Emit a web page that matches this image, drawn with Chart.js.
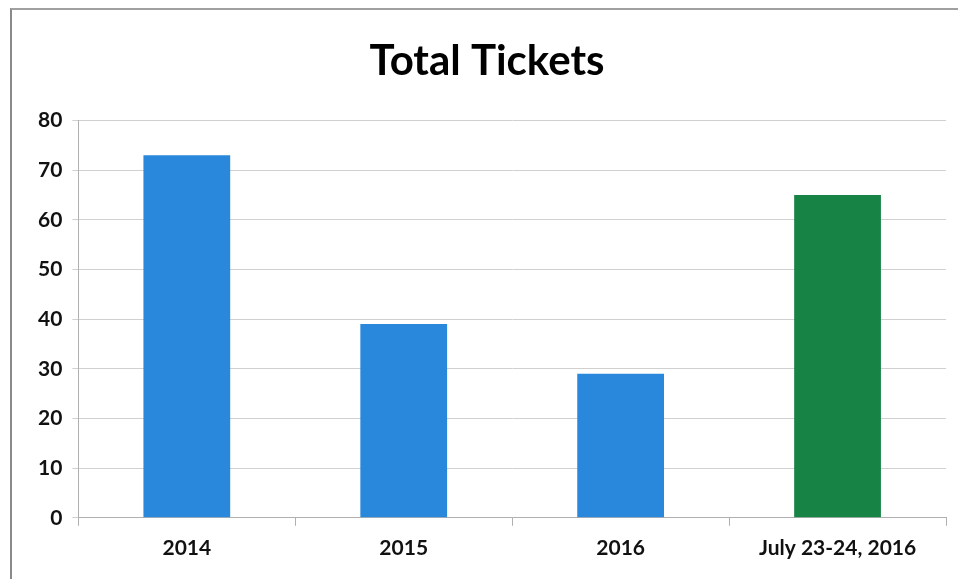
<!DOCTYPE html>
<html lang="en">
<head>
    <meta charset="UTF-8">
    <title>Total Tickets</title>
    <script src="https://cdn.jsdelivr.net/npm/chart.js@4.4.0/dist/chart.umd.min.js"></script>
    <style>
        html, body { margin: 0; padding: 0; background: #fff; }
        #wrap { position: relative; width: 958px; height: 579px; }
        #frame { position: absolute; left: 10px; top: 8px; right: 0; bottom: 0;
                 border-left: 2px solid #8a8a8a; border-top: 2px solid #a0a0a0; }
        canvas { position: absolute; left: 0; top: 0; }
    </style>
</head>
<body>
<div id="wrap">
    <div id="frame"></div>
    <canvas id="tickets-chart" width="958" height="579"></canvas>
</div>

<script>
    const categories = ['2014', '2015', '2016', 'July 23-24, 2016'];
    const tickets = [73, 39, 29, 65];
    const barColors = ['#2a88dc', '#2a88dc', '#2a88dc', '#178345'];

    const font = 'Lato, "Open Sans", sans-serif';

    new Chart('tickets-chart', {
        type: 'bar',
        data: {
            labels: categories,
            datasets: [{
                data: tickets,
                backgroundColor: barColors,
                categoryPercentage: 1,
                barPercentage: 0.4
            }]
        },
        options: {
            responsive: false,
            animation: false,
            layout: { padding: { left: 28, right: 12, top: 8, bottom: 8 } },
            plugins: {
                legend: { display: false },
                tooltip: { enabled: false },
                title: {
                    display: true,
                    text: 'Total Tickets',
                    color: '#000',
                    font: { family: font, size: 42, weight: 'bold' },
                    padding: { top: 28, bottom: 34 }
                }
            },
            scales: {
                x: {
                    grid: { display: true, drawOnChartArea: false, offset: true,
                            color: '#b0b0b0', tickLength: 8 },
                    border: { color: '#b0b0b0' },
                    ticks: { color: '#111', font: { family: font, size: 21, weight: 'bold' }, padding: 10 }
                },
                y: {
                    min: 0,
                    max: 80,
                    grid: { color: '#d0d0d0', tickLength: 6 },
                    border: { color: '#b0b0b0' },
                    ticks: { stepSize: 10, color: '#111', font: { family: font, size: 21, weight: 'bold' }, padding: 10 }
                }
            }
        }
    });
</script>
</body>
</html>
